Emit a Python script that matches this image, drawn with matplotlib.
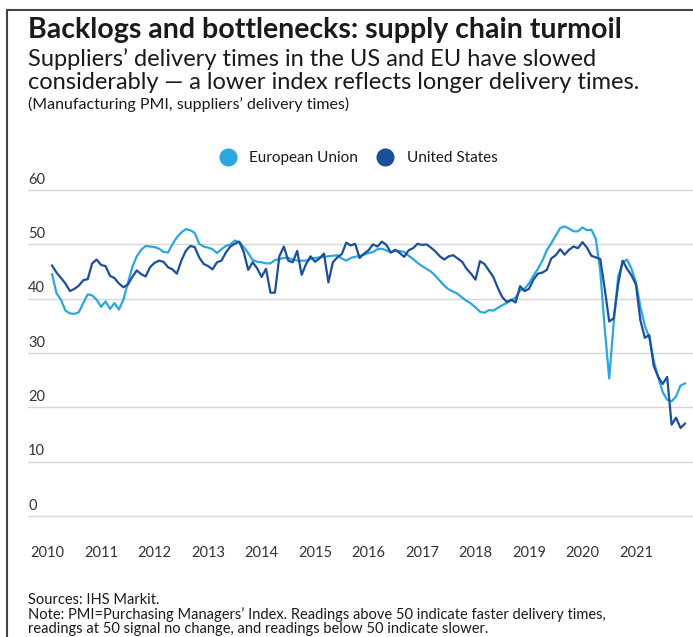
import matplotlib.pyplot as plt
from matplotlib.lines import Line2D
import numpy as np

# monthly readings, Feb 2010 onward (month 0 = Jan 2010)
years = ['2010', '2011', '2012', '2013', '2014', '2015', '2016',
         '2017', '2018', '2019', '2020', '2021']
yticks = [0, 10, 20, 30, 40, 50, 60]

eu = [44.5, 41.0, 39.8, 37.8, 37.3, 37.2, 37.5, 39.2, 40.8, 40.6, 39.8, 38.5,
      39.5, 38.1, 39.2, 38.0, 39.8, 42.9, 45.8, 47.8, 49.0, 49.7, 49.6, 49.5,
      49.2, 48.6, 48.5, 50.0, 51.3, 52.2, 52.8, 52.6, 52.1, 50.1, 49.6, 49.4,
      49.1, 48.4, 49.1, 49.7, 50.0, 50.7, 50.4, 49.5, 48.4, 47.1, 46.8, 46.7,
      46.5, 46.5, 47.1, 47.3, 47.5, 47.5, 47.2, 47.0, 47.0, 47.0, 47.3, 47.5,
      47.6, 47.7, 47.8, 47.9, 48.0, 47.4, 47.0, 47.5, 47.7, 47.9, 48.1, 48.4,
      48.6, 49.1, 49.2, 48.9, 48.5, 48.8, 48.8, 48.6, 47.9, 47.3, 46.6, 46.0,
      45.5, 45.0, 44.2, 43.3, 42.4, 41.7, 41.3, 40.9, 40.2, 39.6, 39.1, 38.4,
      37.6, 37.4, 37.9, 37.8, 38.3, 38.8, 39.2, 39.7, 40.2, 41.5, 41.8, 42.8,
      44.2, 45.5, 47.0, 48.9, 50.2, 51.6, 53.0, 53.3, 52.9, 52.4, 52.4, 53.1,
      52.6, 52.7, 51.0, 45.0, 34.5, 25.3, 35.5, 44.0, 46.6, 47.2, 45.5, 43.0,
      38.5, 35.0, 32.8, 28.5, 25.5, 22.8, 21.4, 21.1, 22.0, 24.0, 24.4]

us = [46.1, 44.8, 43.8, 42.8, 41.4, 41.8, 42.4, 43.4, 43.6, 46.5, 47.2, 46.2,
      46.0, 44.2, 43.8, 42.8, 42.1, 42.6, 44.0, 45.2, 44.5, 44.1, 45.8, 46.6,
      47.0, 46.8, 45.8, 45.4, 44.6, 47.0, 48.8, 49.7, 49.5, 47.6, 46.4, 46.0,
      45.4, 46.7, 47.0, 48.5, 49.6, 50.1, 50.5, 48.6, 45.3, 46.7, 45.6, 44.0,
      45.5, 41.1, 41.1, 47.8, 49.6, 47.0, 46.7, 48.8, 44.4, 46.4, 47.8, 46.8,
      47.4, 48.3, 43.0, 46.7, 47.6, 48.2, 50.3, 49.8, 50.1, 47.5, 48.3, 48.9,
      50.0, 49.6, 50.5, 49.9, 48.5, 49.0, 48.4, 47.7, 48.9, 49.3, 50.1, 49.9,
      50.0, 49.4, 48.7, 47.8, 47.2, 47.8, 48.0, 47.4, 46.8, 45.5, 44.6, 43.5,
      46.9, 46.4, 45.2, 44.0, 42.0, 40.3, 39.4, 39.8, 39.3, 42.3, 41.4, 41.8,
      43.5, 44.6, 44.8, 45.3, 47.4, 48.0, 49.1, 48.1, 49.0, 49.6, 49.3, 50.4,
      49.4, 47.9, 47.6, 47.3, 41.8, 35.8, 36.4, 42.6, 47.0, 45.5, 44.3, 42.6,
      36.0, 32.8, 33.3, 27.6, 25.6, 24.3, 25.6, 16.8, 18.1, 16.2, 17.0]

months = np.arange(1, len(eu) + 1)

EU_COL = '#2aa7df'
US_COL = '#1b4e9b'
TXT = '#1a1a1a'
plt.rcParams['font.family'] = ['Lato', 'DejaVu Sans']

W, H = 693, 637
fig = plt.figure(figsize=(W / 100, H / 100), dpi=100)

# axes: left at px 28, right edge of figure; 0 at px 516, 60 at px 190
ax = fig.add_axes([28 / W, (H - 521.4) / H, 665 / W, (521.4 - 184.6) / H])
ax.set_ylim(-1, 61)
ax.set_xlim(-4.4, 144.8)

ax.plot(months, eu, color=EU_COL, lw=1.6, solid_joinstyle='round')
ax.plot(months, us, color=US_COL, lw=1.6, solid_joinstyle='round')

for v in yticks:
    ax.axhline(v, color='#d6d6d6', lw=1.0, zorder=0)
    ax.text(-4.4, v + 0.6, str(v), fontsize=10.5, color='#333333',
            ha='left', va='bottom')

for s in ax.spines.values():
    s.set_visible(False)
ax.set_yticks([])
ax.set_xticks(np.arange(len(years)) * 12, years)
ax.tick_params(axis='x', length=0, pad=18, labelsize=10.5, labelcolor='#333333')

handles = [Line2D([], [], ls='none', marker='o', ms=12, color=EU_COL),
           Line2D([], [], ls='none', marker='o', ms=12, color=US_COL)]
fig.legend(handles, ['European Union', 'United States'], ncol=2,
           loc='center', bbox_to_anchor=(355 / W, 1 - 158 / H), frameon=False,
           fontsize=11, handletextpad=0.4, columnspacing=0.8,
           labelcolor=TXT)

fig.text(28 / W, 1 - 38 / H, 'Backlogs and bottlenecks: supply chain turmoil',
         fontsize=20.5, fontweight='bold', color=TXT, va='baseline')
fig.text(28 / W, 1 - 66 / H,
         'Suppliers\u2019 delivery times in the US and EU have slowed',
         fontsize=17, color=TXT, va='baseline')
fig.text(28 / W, 1 - 89 / H,
         'considerably \u2014 a lower index reflects longer delivery times.',
         fontsize=17, color=TXT, va='baseline')
fig.text(28 / W, 1 - 109 / H, '(Manufacturing PMI, suppliers\u2019 delivery times)',
         fontsize=11.5, color=TXT, va='baseline')

fig.text(28 / W, 1 - 604 / H, 'Sources: IHS Markit.', fontsize=10.5, color=TXT,
         va='baseline')
fig.text(28 / W, 1 - 618.5 / H,
         'Note: PMI=Purchasing Managers\u2019 Index. Readings above 50 indicate '
         'faster delivery times,', fontsize=10.5, color=TXT, va='baseline')
fig.text(28 / W, 1 - 633 / H,
         'readings at 50 signal no change, and readings below 50 indicate slower.',
         fontsize=10.5, color=TXT, va='baseline')

# frame lines at the left and top of the panel
fig.add_artist(Line2D([7 / W, 7 / W], [0, 1 - 10 / H], color='#444444', lw=1.5))
fig.add_artist(Line2D([7 / W, 1], [1 - 10 / H, 1 - 10 / H], color='#444444', lw=1.5))

fig.savefig('out.png', dpi=100, facecolor='white')
